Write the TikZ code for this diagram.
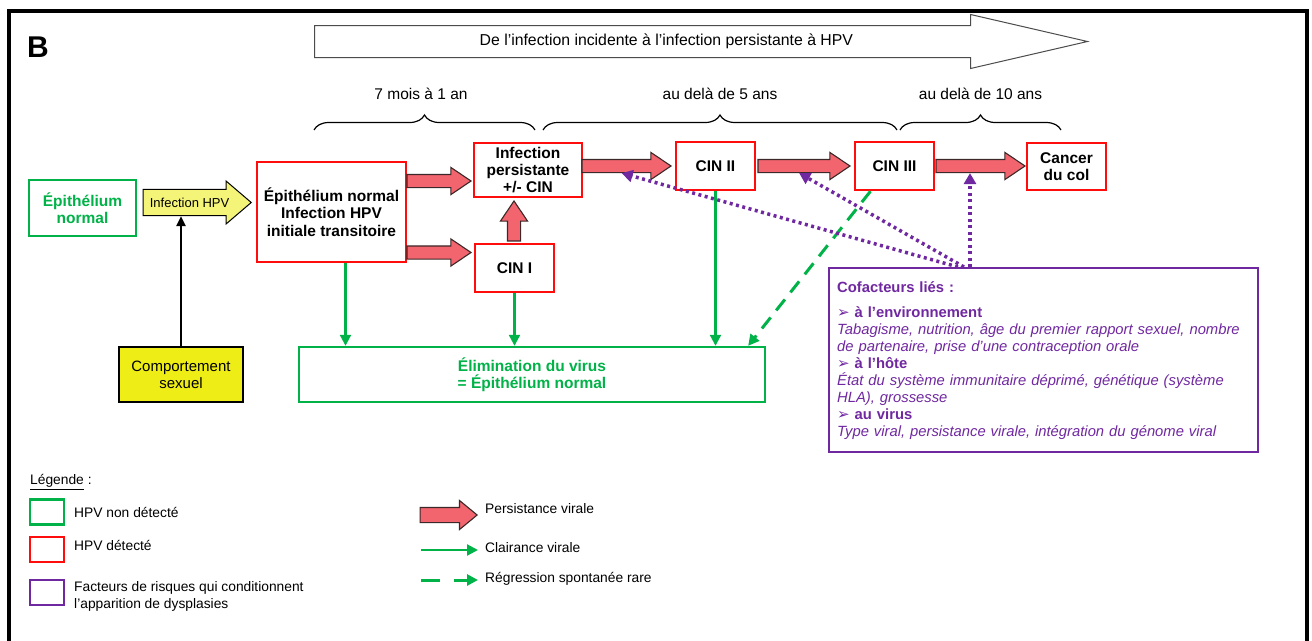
\documentclass[tikz,border=0pt]{standalone}
\usepackage{fontspec}
\setmainfont{Liberation Sans}
\newfontfamily\symfont{DejaVu Sans}
\usetikzlibrary{shapes.arrows,arrows.meta,decorations.pathreplacing,positioning}

\definecolor{hpvred}{RGB}{255,12,12}
\definecolor{hpvgreen}{RGB}{0,178,72}
\definecolor{hpvpurple}{RGB}{112,40,160}
\definecolor{arrowfill}{RGB}{242,100,110}
\definecolor{arrowedge}{RGB}{60,40,40}
\definecolor{hpvyellow}{RGB}{238,238,22}
\definecolor{hpvyellowlt}{RGB}{244,244,120}

\newcommand{\cofmark}{{\symfont\bfseries\fontsize{15}{17}\selectfont ➢}}

\tikzset{
  box/.style={draw, line width=2.4pt, fill=white, align=center, inner sep=2pt,
    font=\fontsize{15.5}{17.5}\selectfont\bfseries},
  redbox/.style={box, draw=hpvred},
  greenbox/.style={box, draw=hpvgreen, text=hpvgreen},
  persist/.style={single arrow, draw=arrowedge, fill=arrowfill, line width=1.1pt,
    inner sep=6pt, minimum width=27pt, single arrow head extend=7pt,
    single arrow tip angle=68, anchor=tip},
  clear/.style={draw=hpvgreen, line width=2.2pt, -{Triangle[length=11pt,width=11pt]}},
  regress/.style={clear, line width=3pt, dash pattern=on 14pt off 9pt},
  cofact/.style={draw=hpvpurple, line width=3.5pt, dash pattern=on 3pt off 3.5pt,
    -{Triangle[length=11pt,width=12pt]}},
  period/.style={decorate, decoration={brace, amplitude=15pt}, line width=1.2pt},
  span/.style={font=\fontsize{15.5}{15.5}\selectfont},
  legend/.style={font=\fontsize{13.8}{17}\selectfont, anchor=west, align=left, inner sep=0pt},
  legsq/.style={draw, line width=2.4pt, minimum width=34pt, minimum height=25pt, inner sep=0pt},
}

\begin{document}
\begin{tikzpicture}[x=1pt,y=-1pt]
\useasboundingbox[fill=white] (0,0) rectangle (1312,640);
\draw[line width=3.5pt] (9,660) |- (1307,11) -- (1307,660);
\node[font=\fontsize{30}{30}\selectfont\bfseries] (panel) at (38,47) {B};

% trend and periods
\node[single arrow, draw=black!70, line width=1pt, fill=white, font=\fontsize{15.8}{15.8}\selectfont,
  text height=10pt, text depth=3pt, inner ysep=9pt, minimum height=773pt, minimum width=53pt,
  single arrow head extend=11pt, single arrow tip angle=26, anchor=tail] (trend) at (314,41.5)
  {De l'infection incidente à l'infection persistante à HPV};
\node[span] (t1) at (421,94) {7 mois à 1 an};
\node[span] (t2) at (720,94) {au delà de 5 ans};
\node[span] (t3) at (980.5,94) {au delà de 10 ans};
\draw[period] (314,130) -- (535,130);
\draw[period] (543,130) -- (897,130);
\draw[period] (900,130) -- (1061,130);

% stages
\node[greenbox, minimum width=107pt, minimum height=56pt] (epi) at (82.5,208) {Épithélium\\normal};
\node[single arrow, draw, fill=hpvyellowlt, line width=1pt, font=\fontsize{13}{13}\selectfont,
  text height=9pt, text depth=0pt, inner xsep=1pt, inner ysep=6pt, minimum height=108pt,
  minimum width=43pt, single arrow tip angle=81, anchor=tip] (infhpv) at (252,202.5) {Infection HPV};
\node[redbox, minimum width=149pt, minimum height=100pt] (init) at (331.5,212)
  {Épithélium normal\\Infection HPV\\initiale transitoire};
\node[redbox, minimum width=108pt, minimum height=54pt, font=\fontsize{15.5}{17}\selectfont\bfseries]
  (infpers) at (528,170) {Infection\\persistante\\+/- CIN};
\node[redbox, minimum width=79pt, minimum height=48pt] (cin1) at (514.5,268) {CIN I};
\node[redbox, minimum width=79pt, minimum height=48pt] (cin2) at (715.5,166) {CIN II};
\node[redbox, minimum width=79pt, minimum height=48pt] (cin3) at (894.5,166) {CIN III};
\node[redbox, minimum width=79pt, minimum height=47pt] (cancer) at (1066.5,166.5) {Cancer\\du col};
\node[greenbox, minimum width=466pt, minimum height=55pt] (elim) at (532,374.5)
  {Élimination du virus\\= Épithélium normal};
\node[box, draw=black, line width=2pt, fill=hpvyellow, font=\fontsize{15}{17}\selectfont,
  minimum width=124pt, minimum height=55pt] (comp) at (181,374.5) {Comportement\\sexuel};

% persistance
\node[persist, minimum height=64pt] (pa) at (472,181) {};
\node[persist, minimum height=64pt] (pb) at (472,252.5) {};
\node[persist, minimum height=40pt, rotate=90] (pc) at (514,200) {};
\node[persist, minimum height=89pt] (pd) at (672,166) {};
\node[persist, minimum height=92pt] (pe) at (851,166) {};
\node[persist, minimum height=89pt] (pf) at (1026,166) {};

\draw[line width=2.2pt, -{Triangle[length=10pt,width=9pt]}] (comp.north) -- (comp.north |- infhpv.south);

% clairance
\draw[clear] ([xshift=14pt]init.south) -- ([xshift=14pt]init.south |- elim.north);
\draw[clear] (cin1.south) -- (cin1.south |- elim.north);
\draw[clear] (cin2.south) -- (cin2.south |- elim.north);
\draw[regress] ([xshift=-24pt]cin3.south) -- ([xshift=-18pt]elim.north east);

% cofacteurs
\node[draw=hpvpurple, line width=2.4pt, fill=white, text=hpvpurple, anchor=north west,
  text width=413pt, inner xsep=8pt, minimum height=184pt, align=left,
  font=\fontsize{14.8}{17}\selectfont] (cof) at (828,267)
  {\textbf{Cofacteurs liés :}\\[8pt]
   \cofmark~\textbf{à l'environnement}\\
   \textit{Tabagisme, nutrition, âge du premier rapport sexuel, nombre}\\
   \textit{de partenaire, prise d'une contraception orale}\\
   \cofmark~\textbf{à l'hôte}\\
   \textit{État du système immunitaire déprimé, génétique (système}\\
   \textit{HLA), grossesse}\\
   \cofmark~\textbf{au virus}\\
   \textit{Type viral, persistance virale, intégration du génome viral}};
\coordinate (coftop) at (970,267);
\draw[cofact] (coftop) -- (coftop |- pf.south);
\draw[cofact] ([xshift=-6pt]coftop) -- (pe.south);
\draw[cofact] ([xshift=-12pt]coftop) -- (pd.south);

% legende
\node[legend] (leg) at (30,482) {\underline{Légende} :};
\node[legsq, draw=hpvgreen] (lg1) at (47,512) {};
\node[legsq, draw=hpvred] (lg2) at (47,549.5) {};
\node[legsq, draw=hpvpurple] (lg3) at (47,592.5) {};
\node[legend] (lt1) at (74,512) {HPV non détecté};
\node[legend] (lt2) at (74,545) {HPV détecté};
\node[legend] (lt3) at (74,596) {Facteurs de risques qui conditionnent\\l'apparition de dysplasies};
\node[persist, minimum height=57pt, inner sep=7pt, minimum width=28pt, single arrow tip angle=79] (lp) at (478,515) {};
\node[legend] (lt4) at (485,509) {Persistance virale};
\coordinate (lc0) at (421,550);
\coordinate (lc1) at (478,550);
\draw[clear] (lc0) -- (lc1);
\node[legend] (lt5) at (485,548) {Clairance virale};
\coordinate (lr0) at (421,580);
\coordinate (lr1) at (478,580);
\draw[regress, dash pattern=on 19pt off 14pt] (lr0) -- (lr1);
\node[legend] (lt6) at (485,579) {Régression spontanée rare};
\end{tikzpicture}
\end{document}
